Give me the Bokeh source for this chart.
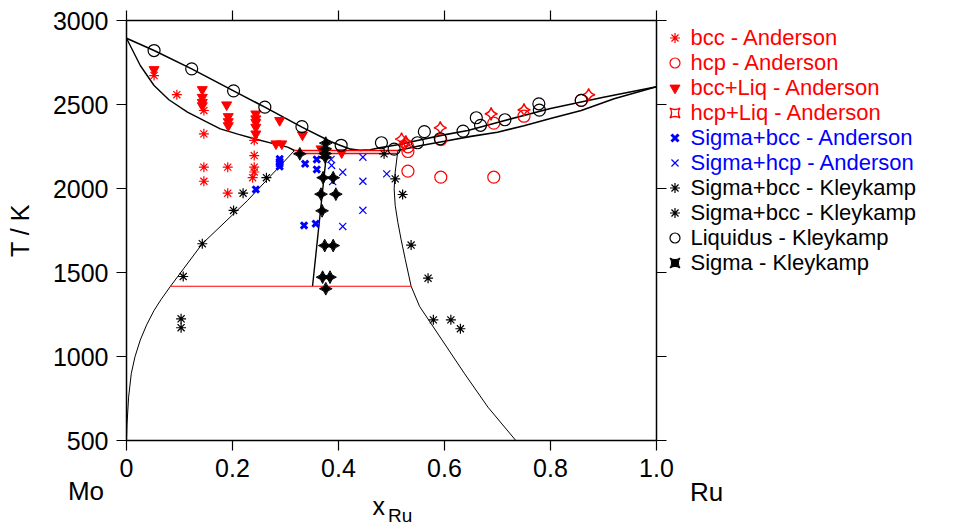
import math
from bokeh.plotting import figure
from bokeh.models import Range1d, LinearAxis, FixedTicker, Legend, LegendItem, Label
from bokeh.embed import file_html
from bokeh.resources import INLINE

FONT = "Liberation Sans"

# ---------------- data ----------------
x_ticks = [0, 0.2, 0.4, 0.6, 0.8, 1.0]
x_tick_labels = ["0", "0.2", "0.4", "0.6", "0.8", "1.0"]
y_ticks = [500, 1000, 1500, 2000, 2500, 3000]
x_min, x_max = 0.0, 1.0
T_min, T_max = 500, 3000

# phase boundaries
liq_x = [0, 0.052, 0.123, 0.202, 0.261, 0.331, 0.386, 0.404, 0.423, 0.44, 0.46, 0.48, 0.512, 0.549, 0.594, 0.644, 0.70, 0.80, 0.90, 1.0]
liq_T = [2896, 2823, 2714, 2583, 2486, 2367, 2280, 2258, 2236, 2229, 2232, 2246, 2262, 2288, 2318, 2347, 2395, 2478, 2545, 2607]
sol_bcc_x = [0, 0.026, 0.052, 0.08, 0.115, 0.15, 0.177, 0.21, 0.241, 0.275, 0.304, 0.317]
sol_bcc_T = [2896, 2734, 2615, 2530, 2456, 2400, 2357, 2325, 2298, 2270, 2248, 2228]
sol_hcp_x = [0.512, 0.556, 0.60, 0.65, 0.70, 0.75, 0.80, 0.858, 0.92, 1.0]
sol_hcp_T = [2228, 2258, 2283, 2312, 2337, 2375, 2418, 2466, 2536, 2607]
solv_bcc_x = [0.317, 0.228, 0.143, 0.083, 0.065, 0.052, 0.038, 0.026, 0.016, 0.009, 0.004, 0.001, 0.0]
solv_bcc_T = [2228, 1929, 1673, 1420, 1340, 1276, 1190, 1100, 1000, 900, 760, 600, 500]
solv_hcp_x = [0.512, 0.507, 0.505, 0.507, 0.512, 0.518, 0.526, 0.537, 0.553, 0.575, 0.638, 0.682, 0.735]
solv_hcp_T = [2228, 2100, 2000, 1900, 1800, 1700, 1580, 1420, 1300, 1196, 899, 700, 500]
sigma_x = [0.378, 0.351]
sigma_T = [2228, 1420]
eut_x = [0.317, 0.512]
eut_T = [2228, 2228]
per_x = [0.317, 0.512]
per_T = [2210, 2210]
eutectoid_x = [0.083, 0.537]
eutectoid_T = [1420, 1420]

# experimental points
bcc_and_x = [0.052, 0.095, 0.146, 0.146, 0.146, 0.146, 0.191, 0.191, 0.241, 0.241, 0.241, 0.241, 0.238]
bcc_and_T = [2674, 2560, 2466, 2327, 2129, 2045, 2129, 1974, 2288, 2198, 2129, 2100, 2066]
hcp_and_x = [0.531, 0.531, 0.531, 0.593, 0.593, 0.693, 0.693, 0.750, 0.858]
hcp_and_T = [2250, 2222, 2105, 2293, 2069, 2069, 2391, 2432, 2526]
bccliq_x = [0.052, 0.143, 0.143, 0.143, 0.143, 0.189, 0.192, 0.192, 0.192, 0.244, 0.244, 0.244, 0.244, 0.244, 0.289, 0.282, 0.293, 0.332, 0.367, 0.406]
bccliq_T = [2710, 2591, 2545, 2515, 2495, 2500, 2430, 2400, 2376, 2446, 2417, 2396, 2367, 2327, 2407, 2268, 2268, 2321, 2238, 2215]
hcpliq_x = [0.519, 0.527, 0.524, 0.592, 0.688, 0.750, 0.872]
hcpliq_T = [2296, 2280, 2262, 2363, 2446, 2470, 2560]
sbcc_and_x = [0.289, 0.289, 0.289, 0.289, 0.337, 0.359, 0.359, 0.244, 0.335, 0.357]
sbcc_and_T = [2178, 2162, 2148, 2132, 2149, 2175, 2115, 1996, 1782, 1792]
shcp_and_x = [0.386, 0.387, 0.408, 0.389, 0.446, 0.446, 0.446, 0.408, 0.491]
shcp_and_T = [2175, 2139, 2099, 2043, 2188, 2045, 1872, 1776, 2089]
sbcc_kl1_x = [0.103, 0.103, 0.107, 0.143, 0.202, 0.220, 0.264]
sbcc_kl1_T = [1226, 1173, 1478, 1673, 1871, 1974, 2066]
sbcc_kl2_x = [0.486, 0.507, 0.521, 0.537, 0.569, 0.579, 0.612, 0.630]
sbcc_kl2_T = [2208, 2059, 1966, 1665, 1468, 1220, 1220, 1167]
liq_kl_x = [0.052, 0.123, 0.202, 0.261, 0.331, 0.405, 0.481, 0.505, 0.549, 0.562, 0.592, 0.635, 0.660, 0.668, 0.714, 0.778, 0.779, 0.858]
liq_kl_T = [2823, 2714, 2583, 2486, 2370, 2259, 2274, 2236, 2274, 2340, 2298, 2343, 2423, 2378, 2411, 2506, 2468, 2526]
sig_kl_x = [0.376, 0.375, 0.375, 0.375, 0.327, 0.371, 0.390, 0.367, 0.395, 0.369, 0.374, 0.390, 0.370, 0.384, 0.376]
sig_kl_T = [2272, 2238, 2210, 2188, 2208, 2066, 2066, 1968, 1968, 1869, 1662, 1662, 1474, 1474, 1405]

labels = ["bcc - Anderson", "hcp - Anderson", "bcc+Liq - Anderson", "hcp+Liq - Anderson",
          "Sigma+bcc - Anderson", "Sigma+hcp - Anderson",
          "Sigma+bcc - Kleykamp", "Sigma+bcc - Kleykamp", "Liquidus - Kleykamp", "Sigma - Kleykamp"]

RED = "#ff0000"
BLUE = "#0000ff"
BLACK = "#000000"
label_colors = [RED, RED, RED, RED, BLUE, BLUE, BLACK, BLACK, BLACK, BLACK]

# ---------------- layout: frame covers the whole canvas ----------------
W, H = 960, 526
X0_PX, X1_PX = 126, 656        # pixel columns of x = 0 and x = 1
YTOP_PX, YBOT_PX = 20.3, 440.3  # pixel rows of T = 3000 and T = 500
sx = (X1_PX - X0_PX) / (x_max - x_min)
sy = (YBOT_PX - YTOP_PX) / (T_max - T_min)
xr = Range1d(x_min - X0_PX / sx, x_min + (W - X0_PX) / sx)
yr = Range1d(T_max - (H - YTOP_PX) / sy, T_max + YTOP_PX / sy)

p = figure(width=W, height=H, min_border=0, x_range=xr, y_range=yr,
           output_backend="svg", toolbar_location=None, x_axis_location=None, y_axis_location=None)
p.xgrid.visible = False
p.ygrid.visible = False
p.outline_line_color = None
p.background_fill_color = "white"
p.border_fill_color = "white"

def make_axis(ticks, loc, bounds, show_labels=True):
    if show_labels:
        ax = LinearAxis(ticker=FixedTicker(ticks=ticks), fixed_location=loc, bounds=bounds)
        ax.major_tick_line_color = BLACK
        ax.major_tick_line_width = 1.2
        ax.major_tick_out = 10
        ax.major_tick_in = 0
        ax.minor_tick_line_color = None
        ax.major_label_text_font = FONT
        ax.major_label_text_color = BLACK
        ax.major_label_text_font_size = "25px"
        ax.major_label_standoff = 8
    else:
        # tick marks only (drawn as minor ticks, which carry no labels)
        ax = LinearAxis(ticker=FixedTicker(ticks=[], minor_ticks=ticks), fixed_location=loc, bounds=bounds)
        ax.major_tick_line_color = None
        ax.minor_tick_line_color = BLACK
        ax.minor_tick_line_width = 1.2
        ax.minor_tick_out = 10
        ax.minor_tick_in = 0
    ax.axis_line_color = BLACK
    ax.axis_line_width = 1.5
    return ax

xb = make_axis(x_ticks, T_min, (x_min, x_max))
xb.major_label_overrides = {t: l for t, l in zip(x_ticks, x_tick_labels)}
p.add_layout(xb, "below")
yl = make_axis(y_ticks, x_min, (T_min, T_max))
yl.axis_label = "T / K"
yl.axis_label_text_font = FONT
yl.axis_label_text_font_size = "25px"
yl.axis_label_text_font_style = "normal"
yl.axis_label_text_color = BLACK
yl.axis_label_standoff = 16
p.add_layout(yl, "left")
p.add_layout(make_axis(x_ticks, T_max, (x_min, x_max), False), "above")
p.add_layout(make_axis(y_ticks, x_max, (T_min, T_max), False), "right")

# phase boundary lines
p.line(liq_x, liq_T, line_color=BLACK, line_width=1.6)
p.line(sol_bcc_x, sol_bcc_T, line_color=BLACK, line_width=1.4)
p.line(sol_hcp_x, sol_hcp_T, line_color=BLACK, line_width=1.6)
p.line(solv_bcc_x, solv_bcc_T, line_color=BLACK, line_width=1.0)
p.line(solv_hcp_x, solv_hcp_T, line_color=BLACK, line_width=1.0)
p.line(sigma_x, sigma_T, line_color=BLACK, line_width=1.4)
p.line(eut_x, eut_T, line_color=RED, line_width=1.5)
p.line(per_x, per_T, line_color=RED, line_width=1.5)
p.line(eutectoid_x, eutectoid_T, line_color=RED, line_width=1.2)

r = []
r.append(p.scatter(bcc_and_x, bcc_and_T, marker="asterisk", size=10, line_color=RED, line_width=1.2))
r.append(p.scatter(hcp_and_x, hcp_and_T, marker="circle", size=12, line_color=RED, fill_color=None, line_width=1.2))
r.append(p.scatter(bccliq_x, bccliq_T, marker="inverted_triangle", size=10, line_color=RED, fill_color=RED))
r.append(p.scatter(hcpliq_x, hcpliq_T, marker="square_pin", angle=math.pi / 4, size=9, line_color=RED, fill_color=None, line_width=1.4))
r.append(p.scatter(sbcc_and_x, sbcc_and_T, marker="x", size=9, line_color=BLUE, line_width=3))
r.append(p.scatter(shcp_and_x, shcp_and_T, marker="x", size=10, line_color=BLUE, line_width=1.2))
r.append(p.scatter(sbcc_kl1_x, sbcc_kl1_T, marker="asterisk", size=10, line_color=BLACK, line_width=1.2))
r.append(p.scatter(sbcc_kl2_x, sbcc_kl2_T, marker="asterisk", size=10, line_color=BLACK, line_width=1.2))
r.append(p.scatter(liq_kl_x, liq_kl_T, marker="circle", size=12, line_color=BLACK, fill_color=None, line_width=1.2))
r.append(p.scatter(sig_kl_x, sig_kl_T, marker="square_pin", angle=math.pi / 4, size=9, line_color=BLACK, fill_color=BLACK))

# one single-entry legend per row, so that rows sit at the reference's 25 px pitch
ROW_H = 25
FIRST_ROW_PX = 38.3
PITCH = 25
for i in range(len(labels)):
    center_px = FIRST_ROW_PX + i * PITCH
    lg = Legend(items=[LegendItem(label=labels[i], renderers=[r[i]])],
                location=(661.5, H - (center_px + ROW_H / 2)), orientation="vertical",
                label_text_font=FONT, label_text_font_size="22px", label_text_color=label_colors[i],
                glyph_width=25, glyph_height=ROW_H, label_height=ROW_H, label_standoff=4,
                spacing=0, padding=0, margin=0,
                border_line_color=None, background_fill_alpha=0)
    p.add_layout(lg, "center")

# element labels and x-axis label (screen units, frame == canvas)
def screen_label(txt, x_px, y_px, size, align):
    p.add_layout(Label(x=x_px, y=H - y_px, x_units="screen", y_units="screen", text=txt,
                       text_font=FONT, text_font_size=size, text_align=align,
                       text_baseline="middle", text_color=BLACK))

screen_label("Mo", 85.5, 490, "26px", "center")
screen_label("Ru", 706, 491, "26px", "center")
screen_label("x", 372, 505.5, "25px", "left")
screen_label("Ru", 387.5, 514.5, "19px", "left")

open("out.html", "w").write(file_html(p, INLINE))
